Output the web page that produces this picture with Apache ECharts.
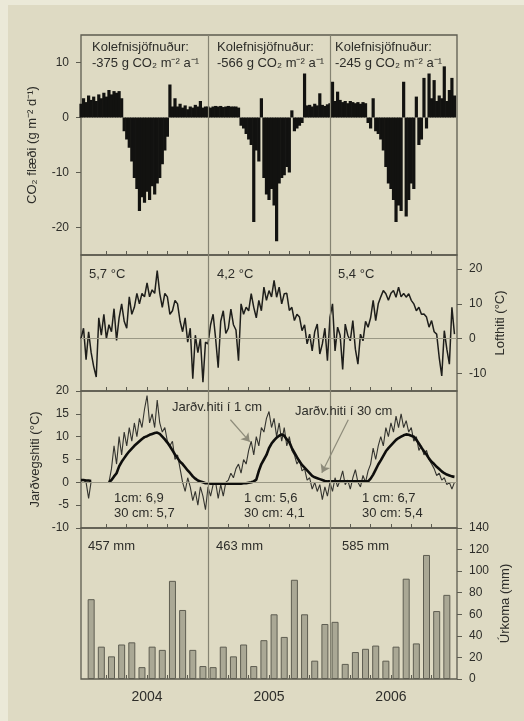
<!DOCTYPE html>
<html lang="is">
<head>
<meta charset="UTF-8">
<title>CO2 flæði, hiti og úrkoma 2004–2006</title>
<script src="https://cdn.jsdelivr.net/npm/echarts@6.0.0/dist/echarts.min.js"></script>
<style>
  html, body { margin: 0; padding: 0; background: #dedac3; }
  #main { width: 524px; height: 721px; }
</style>
</head>
<body>
<div id="main"></div>
<script>
// time axis in months from 1 Jan 2004 (0 = start of 2004), quarter-month steps
const start = -0.5, step = 0.25;
const years = ['2004', '2005', '2006'];
const yearMid = [6, 18, 30];
const tickMonths = [2, 4, 6, 8, 10, 14, 16, 18, 20, 22, 26, 28, 30, 32, 34];

// CO2 flux, g m-2 d-1
const co2Flux = [
  2.5, 3.5, 2.8, 4, 3.2, 3.8, 3, 4.2, 3.5, 4.5, 3.8, 5, 4.2, 4.8, 4.5, 4.8, 3.5, -2.5,
  -4, -5.5, -8, -11, -13, -17, -14.5, -15.5, -13.5, -15, -12.5, -14, -12, -11, -8.5, -6,
  -3.5, 6, 2, 3.5, 2, 2.5, 1.8, 2.2, 1.5, 2, 1.8, 2.3, 2, 3, 1.8, 2,
  // 2005
  2, 1.8, 2, 2.1, 2, 2.1, 1.9, 2, 2.1, 2, 2, 2, 1.8, -1.5, -2, -3,
  -4, -5, -19, -6, -8, 3.5, -11, -14, -15, -13, -16, -22.5, -12, -11, -10.5, -9,
  -10, 1.3, -2.5, -2, -1.5, -1, 8, 2.2, 2.3, 2, 2.5, 2.2, 4.4, 2.3, 2.1, 2.4,
  // 2006
  2.6, 6.5, 3, 4.7, 3.2, 2.8, 3, 2.6, 3, 2.8, 2.6, 2.8, 2.5, 2.8, 2.6, -1,
  -2, 3.5, -2.5, -3, -4, -6, -9, -12, -13, -15, -19, -16, -17, 6.5, -18, -15,
  -12, -13, 3.8, -5, -4, 7.2, -2, 8, 3.5, 6.8, 3, 4, 3.5, 9.3, 3, 5, 7.2, 4
];

// air temperature, °C
const airTemp = [
  0, 3, -6, 2, -4, -8, -11, 6, 1, 7, 0, 4, 2, 8.6, -0.5, 6, 10, 5,
  3, 12, 7, 9, 13, 10, 13, 12, 16, 12, 14, 13, 19.5, 13, 9, 13,
  12, 7, 8, 11, 10, 5, 2, 6, -1, 3, -11.5, 1, -4, 0, -12.5, -1,
  // 2005
  -1.5, 4, 7, 0, -8.3, 5, 8, 1.5, 3, 8.5, 4, 2.5, -6.3, 10, 7, 9,
  8, 12.9, 9, 6, 11, 8, 14.8, 11, 13.8, 12, 16.7, 11.9, 14.8, 10, 12.9, 13,
  8.1, 9, 5.2, 7, 6.2, 2.3, 4, -1.5, 1.3, -3.5, 2, 4.2, -4.4, -1.5, 3, -6.3,
  // 2006
  6.2, 10, -3.5, 3.3, 1, -8.8, 4.2, 1, -0.6, 5.2, -3, -7.3, 1.3, -0.6, 5, 3.3,
  6, 11, 5.2, 10, 12, 13.8, 12.9, 11, 13, 13.8, 11.9, 14.8, 12, 13, 11.9, 12.9,
  11, 10, 8, 9, 7, 7.1, 6.2, 3.3, 5.2, 2, 1.3, -5.4, -10.7, 2.3, -3, -7.3, 9, 1.3
];

// soil temperature at 1 cm, °C
const soil1cm = [
  0.3, 0.5, 0, -3.5, 0.2, null, null, null, null, null, null, 0, 3, 8, 4, 10, 6, 11,
  8, 12, 9, 13, 10, 14, 12, 16, 19, 13, 15, 12, 18, 13, 11, 12,
  9, 8, 9, 5, 6, 3, 0, -2, 1, -1, -4, -2, -5, -1, -3, -6,
  // 2005
  -1, -3, -0.5, 0, -3.5, -0.5, -3, 0, 0.5, 2, 1, 3, 4, 2, 5, 4,
  7, 9, 6, 10, 8, 12, 11, 14, 15.5, 12, 14, 10, 13, 9, 12, 8,
  10, 7, 6, 4, 5, 2.5, 3, 0.5, 1, -1.5, 0, -2, -0.5, -3.8, -1, -3,
  // 2006
  0, -2, 1, -1, 0.5, 2.5, -0.5, 0.5, -1.5, 1, 2.8, 0, -1, 1.5, 0, 2.5,
  4, 7.5, 5, 8, 10, 8, 12, 10, 13, 11, 14.5, 12, 15, 12, 13.5, 11,
  12, 9, 10, 7, 8, 6, 7, 5, 4, 3, 1.5, 2, 0.5, 1, -0.5, 0, -1.5, 0
];

// soil temperature at 30 cm, °C
const soil30cm = [
  0.5, 0.5, 0.4, 0.4, 0.3, null, null, null, null, null, null, 0, 0.5, 1.3, 2, 3.5, 4.5, 5.3,
  6.1, 6.8, 7.4, 8, 8.5, 9, 9.5, 9.9, 10.1, 10.4, 10.6, 10.8, 10.9, 10.6, 10, 9.4,
  8.7, 7.9, 7, 6.1, 5.3, 4.5, 4, 3.3, 2.6, 2, 1.3, 0.8, 0.4, 0.2, 0, -0.2,
  // 2005
  -0.2, -0.3, -0.3, -0.3, -0.3, -0.3, -0.3, -0.3, -0.3, -0.3, -0.3, -0.3, -0.3, -0.3, -0.2, -0.2,
  -0.1, 0, 0.2, 0.6, 2.5, 4, 5, 6, 7.5, 8.5, 9.2, 9.8, 10.2, 10.5, 10.2, 9.4,
  8.8, 7.5, 6.5, 5.5, 4.6, 3.8, 3.2, 2.6, 2, 1.4, 1.1, 0.9, 0.7, 0.5, 0.3, 0.2,
  // 2006
  0.2, 0.2, 0.2, 0.2, 0.2, 0.2, 0.2, 0.2, 0.2, 0.2, 0.2, 0.2, 0.2, 0.2, 0.2, 0.2,
  0.8, 1.7, 2.8, 3.9, 4.8, 5.8, 6.8, 7.5, 8.1, 8.7, 9.3, 9.7, 10, 10.3, 10.5, 10.4,
  10.2, 10, 9.3, 8.5, 7.6, 6.8, 6.1, 5.2, 4.5, 4, 3.4, 2.9, 2.4, 2, 1.7, 1.5, 1.3, 1.2
];

// monthly precipitation, mm
const rain2004 = [74, 30, 21, 32, 34, 11, 30, 27, 91, 64, 27, 12];
const rain2005 = [11, 30, 21, 32, 12, 36, 60, 39, 92, 60, 17, 51];
const rain2006 = [53, 14, 25, 28, 31, 17, 30, 93, 33, 115, 63, 78];

// yearly figures written in the panels
const balance = ['-375', '-566', '-245'];
const airMean = ['5,7', '4,2', '5,4'];
const soil1Mean = ['1cm: 6,9', '1 cm: 5,6', '1 cm: 6,7'];
const soil30Mean = ['30 cm: 5,7', '30 cm: 4,1', '30 cm: 5,4'];
const rainTotal = ['457', '463', '585'];

const months = co2Flux.map((_, i) => start + i * step);
const pts = arr => arr.map((v, i) => [months[i], v == null ? '-' : v]);
const rain = rain2004.concat(rain2005, rain2006);
const rainPts = rain.map((v, i) => [i + 0.5, v]);

const font = "'Liberation Sans', Arial, sans-serif";
const ink = '#2d2d29';
const frame = '#5d5c50';
const divider = { color: '#858372', width: 1.2, type: 'solid' };
const zeroLine = { color: '#9a9885', width: 1, type: 'solid' };

const grids = [
  { top: 35, height: 220 },
  { top: 255, height: 136 },
  { top: 391, height: 137 },
  { top: 528, height: 151 }
].map(g => Object.assign({ left: 81, width: 376, show: true, borderColor: frame, borderWidth: 1.3,
  backgroundColor: 'transparent', containLabel: false }, g));

const xAxes = grids.map((g, i) => ({
  type: 'value', gridIndex: i, min: -0.5, max: 36.5, position: 'bottom',
  axisLine: { show: false, onZero: false },
  splitLine: { show: false },
  axisTick: { show: true, inside: true, length: 4, customValues: tickMonths, lineStyle: { color: frame } },
  axisLabel: i === 3
    ? { customValues: yearMid, formatter: v => years[yearMid.indexOf(v)], fontSize: 14,
        color: ink, fontFamily: font, margin: 11 }
    : { show: false }
}));

function yAx(i, pos, min, max, ticks, name, gap) {
  const ax = {
    type: 'value', gridIndex: i, position: pos, min, max,
    axisLine: { show: false, onZero: false },
    splitLine: { show: false },
    axisTick: { show: true, length: 5, lineStyle: { color: frame } },
    axisLabel: { fontSize: 12, color: ink, fontFamily: font, margin: 12 },
    name, nameLocation: 'middle', nameRotate: 90, nameGap: gap, nameMoveOverlap: false,
    nameTextStyle: { fontSize: 13, color: ink, fontFamily: font }
  };
  if (Array.isArray(ticks)) {
    ax.axisTick.customValues = ticks;
    ax.axisLabel.customValues = ticks;
  } else {
    ax.interval = ticks;
  }
  return ax;
}

const yAxes = [
  yAx(0, 'left', -25, 15, [-20, -10, 0, 10], 'CO₂ flæði (g m⁻² d⁻¹)', 42),
  yAx(1, 'right', -15, 24, [-10, 0, 10, 20], 'Lofthiti (°C)', 37),
  yAx(2, 'left', -10, 20, 5, 'Jarðvegshiti (°C)', 39),
  yAx(3, 'right', 0, 140, 20, 'Úrkoma (mm)', 42)
];

const years2 = [{ xAxis: 12 }, { xAxis: 24 }];

const option = {
  backgroundColor: '#dedac3',
  animation: false,
  grid: grids,
  xAxis: xAxes,
  yAxis: yAxes,
  series: [
    {
      type: 'bar', xAxisIndex: 0, yAxisIndex: 0, data: pts(co2Flux),
      barWidth: 3.2, itemStyle: { color: '#121210' },
      markLine: { silent: true, symbol: 'none', label: { show: false }, lineStyle: divider, data: years2 }
    },
    {
      type: 'line', xAxisIndex: 1, yAxisIndex: 1, data: pts(airTemp),
      showSymbol: false, lineStyle: { color: '#1e1e1b', width: 1.5 },
      markLine: { silent: true, symbol: 'none', label: { show: false }, lineStyle: divider,
        data: years2.concat([{ yAxis: 0, lineStyle: zeroLine }]) }
    },
    {
      type: 'line', xAxisIndex: 2, yAxisIndex: 2, data: pts(soil1cm),
      showSymbol: false, connectNulls: false, lineStyle: { color: '#34342f', width: 1.1 },
      markLine: { silent: true, symbol: 'none', label: { show: false }, lineStyle: divider,
        data: years2.concat([{ yAxis: 0, lineStyle: zeroLine }]) }
    },
    {
      type: 'line', xAxisIndex: 2, yAxisIndex: 2, data: pts(soil30cm),
      showSymbol: false, connectNulls: false, lineStyle: { color: '#0e0e0c', width: 2.6 },
      markLine: {
        silent: true, symbol: ['none', 'arrow'], symbolSize: 8, label: { show: false },
        lineStyle: { color: '#8d8b7a', width: 1.2, type: 'solid' },
        data: [
          [{ coord: [14.2, 13.7] }, { coord: [16.1, 8.9] }],
          [{ coord: [25.8, 13.7] }, { coord: [23.2, 2.1] }]
        ]
      }
    },
    {
      type: 'bar', xAxisIndex: 3, yAxisIndex: 3, data: rainPts,
      barWidth: 7, itemStyle: { color: '#aaa895', borderColor: '#5e5d51', borderWidth: 1 },
      markLine: { silent: true, symbol: 'none', label: { show: false }, lineStyle: divider, data: years2 }
    }
  ]
};

const txt = (x, y, s, size) => ({
  type: 'text', x, y, silent: true, z: 100,
  style: { text: s, fill: ink, fontSize: size || 13, fontFamily: font, textAlign: 'left', textVerticalAlign: 'middle' }
});

const g = [
  { type: 'rect', silent: true, shape: { x: 0, y: 0, width: 8, height: 721 }, style: { fill: '#ebe9d8' } },
  { type: 'rect', silent: true, shape: { x: 0, y: 0, width: 524, height: 5 }, style: { fill: '#ebe9d8' } }
];
const col1 = [92, 217, 335], col2 = [89, 217, 338], col3 = [114, 244, 362], col4 = [88, 216, 342];
years.forEach((y, k) => {
  g.push(txt(col1[k], 47, 'Kolefnisjöfnuður:'));
  g.push(txt(col1[k], 63, balance[k] + ' g CO₂ m⁻² a⁻¹'));
  g.push(txt(col2[k], 274, airMean[k] + ' °C'));
  g.push(txt(col3[k], 498, soil1Mean[k]));
  g.push(txt(col3[k], 513, soil30Mean[k]));
  g.push(txt(col4[k], 546, rainTotal[k] + ' mm'));
});
g.push(txt(172, 407, 'Jarðv.hiti í 1 cm'));
g.push(txt(295, 411, 'Jarðv.hiti í 30 cm'));
option.graphic = g;

const chart = echarts.init(document.getElementById('main'));
chart.setOption(option);
</script>
</body>
</html>
